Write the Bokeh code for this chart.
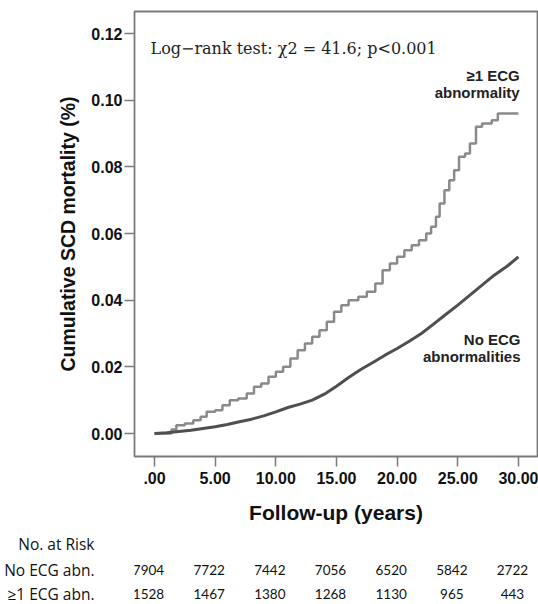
from bokeh.plotting import figure
from bokeh.models import Range1d, FixedTicker
from bokeh.layouts import column
from bokeh.embed import file_html
from bokeh.resources import INLINE
from bokeh.core.properties import value

# ---- data ----
abn_t = [0, 1.4, 1.8, 2.5, 3.2, 3.8, 4.3, 5.0, 5.6, 6.2, 6.9, 7.6, 8.2, 8.8, 9.4, 10.0,
         10.6, 11.2, 11.8, 12.4, 13.0, 13.6, 14.2, 14.8, 15.4, 16.0, 16.8, 17.5, 18.2,
         18.8, 19.4, 20.0, 20.6, 21.2, 21.8, 22.4, 22.8, 23.2, 23.5, 23.9, 24.3, 24.7,
         25.1, 25.6, 26.0, 26.5, 27.0, 27.8, 28.3, 30.0]
abn_v = [0, 0.0012, 0.0025, 0.0030, 0.0040, 0.0050, 0.0065, 0.0070, 0.0085, 0.0100,
         0.0105, 0.0120, 0.0140, 0.0150, 0.0170, 0.0185, 0.0200, 0.0225, 0.0250, 0.0270,
         0.0290, 0.0310, 0.0335, 0.0365, 0.0385, 0.0400, 0.0410, 0.0425, 0.0450, 0.0490,
         0.0510, 0.0530, 0.0550, 0.0565, 0.0580, 0.0600, 0.0620, 0.0650, 0.0690, 0.0730,
         0.0760, 0.0790, 0.0830, 0.0840, 0.0870, 0.0920, 0.0930, 0.0940, 0.0960, 0.0960]

none_t = [0, 1, 2, 3, 4, 5, 6, 7, 8, 9, 10, 11, 12, 13, 14, 15, 16, 17, 18, 19, 20,
          21, 22, 23, 24, 25, 26, 27, 28, 29, 30]
none_v = [0, 0.0002, 0.0006, 0.0010, 0.0015, 0.0020, 0.0027, 0.0035, 0.0043, 0.0053,
          0.0065, 0.0078, 0.0088, 0.0100, 0.0118, 0.0142, 0.0168, 0.0192, 0.0213, 0.0235,
          0.0255, 0.0277, 0.0300, 0.0328, 0.0357, 0.0385, 0.0415, 0.0445, 0.0475, 0.0500,
          0.0530]

x_ticks = [0, 5, 10, 15, 20, 25, 30]
x_tick_labels = [".00", "5.00", "10.00", "15.00", "20.00", "25.00", "30.00"]
y_ticks = [0.0, 0.02, 0.04, 0.06, 0.08, 0.10, 0.12]
y_tick_labels = ["0.00", "0.02", "0.04", "0.06", "0.08", "0.10", "0.12"]

risk_years = [0, 5, 10, 15, 20, 25, 30]
risk_none = [7904, 7722, 7442, 7056, 6520, 5842, 2722]
risk_abn = [1528, 1467, 1380, 1268, 1130, 965, 443]
row_labels = ["No. at Risk", "No ECG abn.", "\u22651 ECG abn."]

# ---- main chart ----
p = figure(width=538, height=530, output_backend="svg", toolbar_location=None,
           x_range=Range1d(-1.649, 31.57), y_range=Range1d(-0.0069, 0.1266),
           min_border_left=134, min_border_right=1, min_border_top=11, min_border_bottom=74)
p.grid.visible = False
p.background_fill_color = "white"
p.border_fill_color = "white"
p.outline_line_color = "#7a7a7a"
p.outline_line_width = 1.8

p.step(abn_t, abn_v, mode="after", line_color="#8a8a8a", line_width=2.5)
p.line(none_t, none_v, line_color="#4f4f4f", line_width=3)

for ax in (p.xaxis[0], p.yaxis[0]):
    ax.axis_line_color = None
    ax.major_tick_line_color = "#7a7a7a"
    ax.major_tick_line_width = 1.5
    ax.major_tick_out = 10
    ax.major_tick_in = 0
    ax.minor_tick_line_color = None
    ax.major_label_text_font = "Liberation Sans"
    ax.major_label_text_font_style = "bold"
    ax.major_label_text_font_size = "16px"
    ax.major_label_text_color = "#111111"
    ax.axis_label_text_font = "Liberation Sans"
    ax.axis_label_text_font_style = "bold"
    ax.axis_label_text_color = "#111111"

p.xaxis.axis_label_text_font_size = "21px"
p.yaxis.axis_label_text_font_size = "19.5px"
p.xaxis.ticker = FixedTicker(ticks=x_ticks)
p.xaxis.major_label_overrides = {t: l for t, l in zip(x_ticks, x_tick_labels)}
p.yaxis.ticker = FixedTicker(ticks=y_ticks)
p.yaxis.major_label_overrides = {t: l for t, l in zip(y_ticks, y_tick_labels)}
p.xaxis.major_label_standoff = 5
p.yaxis.major_label_standoff = 2
p.xaxis.axis_label = "Follow-up (years)"
p.yaxis.axis_label = "Cumulative SCD mortality (%)"
p.xaxis.axis_label_standoff = 14
p.yaxis.axis_label_standoff = 9

p.text(x=[-0.33], y=[0.1155], text=["Log\u2212rank test:  \u03c72 = 41.6; p<0.001"],
       text_font=value("DejaVu Serif"), text_font_size="16px",
       text_baseline="middle", text_align="left", text_color="#222222")
p.text(x=[30.1, 30.1], y=[0.1074, 0.1023], text=["\u22651 ECG", "abnormality"],
       text_font=value("Liberation Sans"), text_font_style="bold", text_font_size="15px",
       text_baseline="middle", text_align="right", text_color="#222222")
p.text(x=[30.17, 30.17], y=[0.0282, 0.0231], text=["No ECG", "abnormalities"],
       text_font=value("Liberation Sans"), text_font_style="bold", text_font_size="15px",
       text_baseline="middle", text_align="right", text_color="#222222")

# ---- risk table ----
row_y = [13, 39, 63]
t = figure(width=538, height=74, output_backend="svg", toolbar_location=None,
           x_range=p.x_range, y_range=Range1d(74, 0),
           x_axis_location=None,
           min_border_left=134, min_border_right=1, min_border_top=0, min_border_bottom=0)
t.grid.visible = False
t.outline_line_color = None
t.background_fill_color = "white"
t.border_fill_color = "white"
ya = t.yaxis[0]
ya.ticker = FixedTicker(ticks=row_y)
ya.major_label_overrides = {y: l for y, l in zip(row_y, row_labels)}
ya.axis_line_color = None
ya.major_tick_line_color = None
ya.minor_tick_line_color = None
ya.major_label_standoff = 34
ya.major_label_text_font = "Open Sans"
ya.major_label_text_font_size = "15.5px"
ya.major_label_text_font_style = "normal"
ya.major_label_text_color = "#111111"

t.text(x=risk_years, y=[row_y[1]] * len(risk_years), text=[str(v) for v in risk_none],
       x_offset=-6, text_font=value("Lato"), text_font_size="13.5px",
       text_baseline="middle", text_align="center", text_color="#111111")
t.text(x=risk_years, y=[row_y[2]] * len(risk_years), text=[str(v) for v in risk_abn],
       x_offset=-6, text_font=value("Lato"), text_font_size="13.5px",
       text_baseline="middle", text_align="center", text_color="#111111")

layout = column(p, t, spacing=0)
open("out.html", "w").write(file_html(layout, INLINE))
